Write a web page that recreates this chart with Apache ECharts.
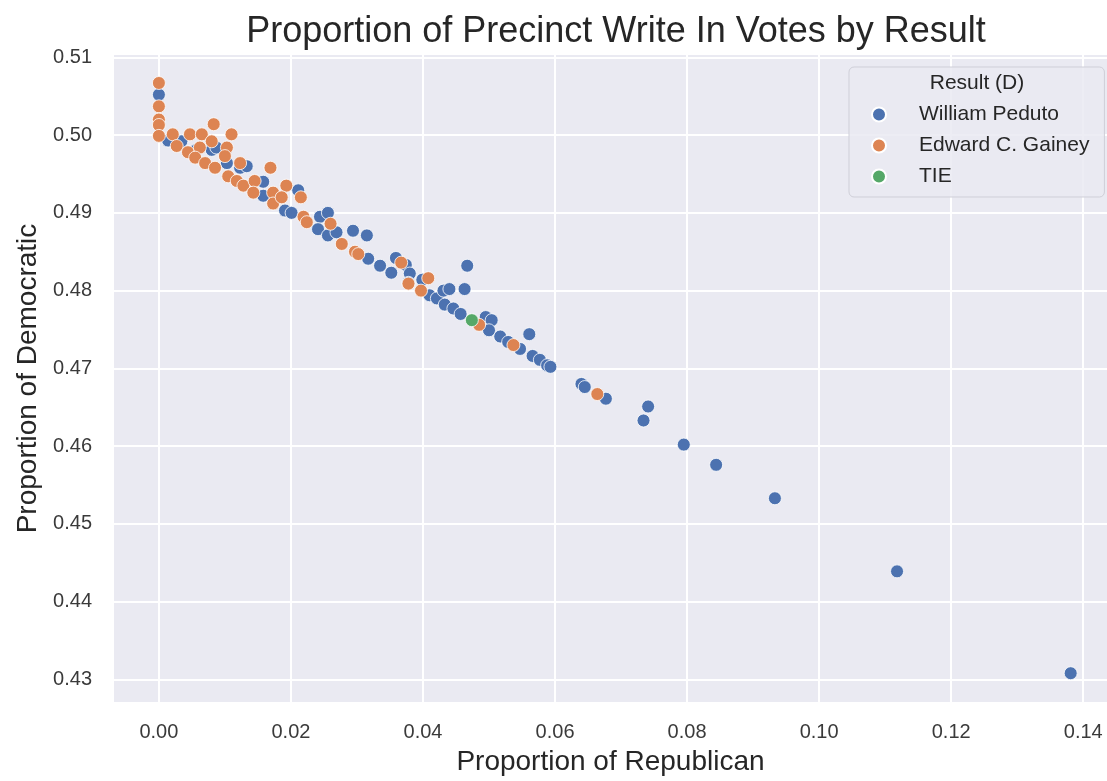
<!DOCTYPE html>
<html lang="en">
<head>
    <meta charset="UTF-8">
    <title>Proportion of Precinct Write In Votes by Result</title>
    <style>
        html, body { margin: 0; padding: 0; background: #fff; }
    </style>
</head>
<body>
<div id="chartBox" style="width: 1107px;height: 781px;"></div>
<script type="text/javascript" src="https://cdn.jsdelivr.net/npm/echarts@6/dist/echarts.min.js"></script>
<script type="text/javascript">
    // legend names (hue order)
    var categories = ['William Peduto', 'Edward C. Gainey', 'TIE'];
    var colors = ['#4c72b0', '#dd8452', '#55a868'];

    // [proportion republican, proportion democratic]
    var peduto = [
        [0.0000, 0.5052], [0.0014, 0.4993], [0.0034, 0.4992], [0.0057, 0.4981], [0.0080, 0.4981],
        [0.0087, 0.4984], [0.0103, 0.4964], [0.0123, 0.4958], [0.0133, 0.4960], [0.0158, 0.4940],
        [0.0158, 0.4922], [0.0211, 0.4929], [0.0191, 0.4903], [0.0201, 0.4900], [0.0244, 0.4895],
        [0.0256, 0.4900], [0.0241, 0.4879], [0.0256, 0.4871], [0.0269, 0.4875], [0.0294, 0.4877],
        [0.0315, 0.4871], [0.0317, 0.4841], [0.0335, 0.4832], [0.0352, 0.4823], [0.0359, 0.4842],
        [0.0374, 0.4833], [0.0380, 0.4822], [0.0378, 0.4810], [0.0399, 0.4814], [0.0410, 0.4794],
        [0.0421, 0.4790], [0.0433, 0.4782], [0.0446, 0.4777], [0.0457, 0.4770], [0.0431, 0.4800],
        [0.0440, 0.4802], [0.0463, 0.4802], [0.0467, 0.4832], [0.0495, 0.4766], [0.0504, 0.4762],
        [0.0500, 0.4749], [0.0517, 0.4741], [0.0529, 0.4734], [0.0547, 0.4725], [0.0561, 0.4744],
        [0.0566, 0.4716], [0.0577, 0.4711], [0.0588, 0.4704], [0.0593, 0.4702], [0.0640, 0.4680],
        [0.0645, 0.4676], [0.0677, 0.4661], [0.0741, 0.4651], [0.0734, 0.4633], [0.0795, 0.4602],
        [0.0844, 0.4576], [0.0933, 0.4533], [0.1118, 0.4439], [0.1381, 0.4308]
    ];
    var gainey = [
        [0.0000, 0.5067], [0.0000, 0.5037], [0.0000, 0.5020], [0.0000, 0.5013], [0.0000, 0.4999],
        [0.0021, 0.5001], [0.0027, 0.4986], [0.0047, 0.5001], [0.0065, 0.5001], [0.0083, 0.5014],
        [0.0110, 0.5001], [0.0044, 0.4978], [0.0062, 0.4984], [0.0080, 0.4992], [0.0103, 0.4984],
        [0.0100, 0.4973], [0.0055, 0.4971], [0.0070, 0.4964], [0.0085, 0.4958], [0.0123, 0.4964],
        [0.0105, 0.4947], [0.0118, 0.4941], [0.0128, 0.4935], [0.0145, 0.4941], [0.0169, 0.4958],
        [0.0193, 0.4935], [0.0143, 0.4926], [0.0173, 0.4926], [0.0173, 0.4912], [0.0186, 0.4920],
        [0.0215, 0.4920], [0.0219, 0.4895], [0.0224, 0.4888], [0.0260, 0.4886], [0.0277, 0.4860],
        [0.0297, 0.4850], [0.0302, 0.4847], [0.0367, 0.4836], [0.0408, 0.4816], [0.0397, 0.4800],
        [0.0378, 0.4809], [0.0485, 0.4756], [0.0537, 0.4730], [0.0664, 0.4667]
    ];
    var tie = [
        [0.0474, 0.4762]
    ];

    // tick labels
    var xTicks = [0.00, 0.02, 0.04, 0.06, 0.08, 0.10, 0.12, 0.14];
    var yTicks = [0.43, 0.44, 0.45, 0.46, 0.47, 0.48, 0.49, 0.50, 0.51];

    var font = 'Liberation Sans, Arial, Helvetica, sans-serif';
    var seriesData = [peduto, gainey, tie];

    var myChart = echarts.init(document.getElementById('chartBox'));

    myChart.setOption({
        animation: false,
        title: [{
            text: 'Proportion of Precinct Write In Votes by Result',
            left: 611,
            top: 9,
            textAlign: 'center',
            textStyle: { fontFamily: font, fontSize: 36, fontWeight: 'normal', color: '#262626' }
        }, {
            text: 'Result (D)',
            left: 972,
            top: 68,
            textAlign: 'center',
            textStyle: { fontFamily: font, fontSize: 21, fontWeight: 'normal', color: '#262626' }
        }],
        legend: {
            data: categories,
            orient: 'vertical',
            left: 849,
            top: 67,
            padding: [37, 15, 10, 22],
            itemWidth: 14,
            itemHeight: 14,
            itemGap: 10,
            icon: 'circle',
            backgroundColor: 'rgba(234,234,242,0.85)',
            borderColor: '#cfcfd8',
            borderWidth: 1,
            borderRadius: 5,
            textStyle: {
                fontFamily: font, fontSize: 21, color: '#262626',
                lineHeight: 21, padding: [0, 0, 0, 28]
            }
        },
        grid: {
            left: 114,
            top: 55,
            right: 0,
            bottom: 76,
            show: true,
            backgroundColor: '#eaeaf2',
            borderWidth: 0
        },
        xAxis: {
            type: 'value',
            min: -0.0068,
            max: 0.1436,
            name: 'Proportion of Republican',
            nameLocation: 'middle',
            nameGap: 46,
            nameTextStyle: { fontFamily: font, fontSize: 28, color: '#262626' },
            axisLine: { show: false },
            axisTick: { show: false, customValues: xTicks },
            axisLabel: {
                customValues: xTicks,
                margin: 20,
                fontFamily: font, fontSize: 20, color: '#3a3a3a',
                formatter: function (v) { return v.toFixed(2); }
            },
            splitLine: { show: true, lineStyle: { color: '#ffffff', width: 2 } }
        },
        yAxis: {
            type: 'value',
            min: 0.4271,
            max: 0.5103,
            name: 'Proportion of Democratic',
            nameLocation: 'middle',
            nameGap: 72,
            nameTextStyle: { fontFamily: font, fontSize: 28, color: '#262626' },
            axisLine: { show: false },
            axisTick: { show: false, customValues: yTicks },
            axisLabel: {
                customValues: yTicks,
                margin: 22,
                fontFamily: font, fontSize: 20, color: '#3a3a3a',
                formatter: function (v) { return v.toFixed(2); }
            },
            splitLine: { show: true, lineStyle: { color: '#ffffff', width: 2 } }
        },
        series: categories.map(function (name, i) {
            return {
                name: name,
                type: 'scatter',
                data: seriesData[i],
                symbol: 'circle',
                symbolSize: 13,
                itemStyle: { color: colors[i], borderColor: '#ffffff', borderWidth: 0.8, opacity: 1 }
            };
        })
    });
</script>
</body>
</html>
